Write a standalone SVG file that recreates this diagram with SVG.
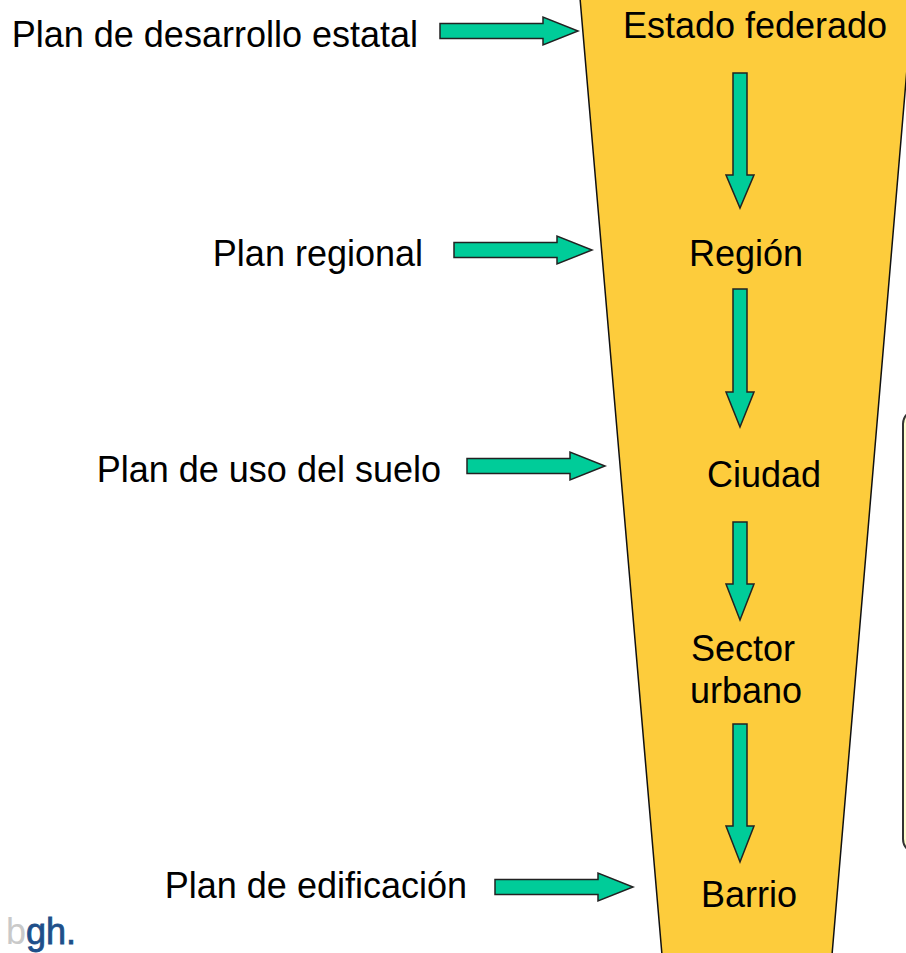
<svg xmlns="http://www.w3.org/2000/svg" xmlns:xlink="http://www.w3.org/1999/xlink" width="906" height="953" viewBox="0 0 906 953">
<style>
.lbl{font-family:"Liberation Sans",Arial,sans-serif;font-size:36px;fill:#000}
.end{text-anchor:end}
.mid{text-anchor:middle}
.arr{fill:#00CC99;stroke:#222;stroke-width:1.5;stroke-linejoin:miter}
.funnel{fill:#FDCC3C;stroke:#111;stroke-width:1.5}
.box{fill:#FFFFCC;stroke:#333;stroke-width:2}
</style>
<defs>
<polygon id="harr" points="0,-7.5 103,-7.5 103,-14 138,0 103,14 103,7.5 0,7.5"/>
</defs>
<rect width="906" height="953" fill="#fff"/>
<g id="side-box"><rect class="box" x="903" y="410" width="60" height="443" rx="14"/></g>
<g id="funnel"><polygon class="funnel" points="580,-2 913,-2 832,955 662,955"/></g>
<g id="levels">
<g id="estado"><text class="lbl mid" x="755" y="38">Estado federado</text></g>
<g id="region"><text class="lbl mid" x="746" y="266">Región</text></g>
<g id="ciudad"><text class="lbl mid" x="764" y="487">Ciudad</text></g>
<g id="sector"><text class="lbl mid" x="743" y="661">Sector</text><text class="lbl mid" x="746" y="703">urbano</text></g>
<g id="barrio"><text class="lbl mid" x="749" y="907">Barrio</text></g>
</g>
<g id="plans">
<g id="plan-estatal"><text class="lbl end" x="418" y="47">Plan de desarrollo estatal</text></g>
<g id="plan-regional"><text class="lbl end" x="423" y="266">Plan regional</text></g>
<g id="plan-suelo"><text class="lbl end" x="441" y="482">Plan de uso del suelo</text></g>
<g id="plan-edificacion"><text class="lbl end" x="467" y="898">Plan de edificación</text></g>
</g>
<g id="connectors">
<use xlink:href="#harr" class="arr" x="440" y="31"/>
<use xlink:href="#harr" class="arr" x="454" y="250"/>
<use xlink:href="#harr" class="arr" x="467" y="466"/>
<use xlink:href="#harr" class="arr" x="495" y="887"/>
<polygon class="arr" points="733,73 747,73 747,175 754,175 740,208 726,175 733,175"/>
<polygon class="arr" points="733,289 747,289 747,392 754,392 740,427 726,392 733,392"/>
<polygon class="arr" points="733,522 747,522 747,584 754,584 740,620 726,584 733,584"/>
<polygon class="arr" points="733,724 747,724 747,826 754,826 740,862 726,826 733,826"/>
</g>
<g id="logo">
<text x="6" y="944" style="font-family:'Liberation Sans',Arial,sans-serif;font-size:36px"><tspan fill="#C9C9C9">b</tspan><tspan fill="#1E4F8A" stroke="#1E4F8A" stroke-width="0.8">gh.</tspan></text>
</g>
</svg>
